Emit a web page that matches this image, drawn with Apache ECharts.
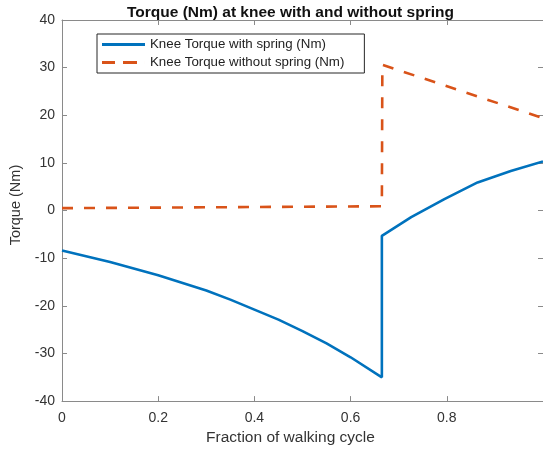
<!DOCTYPE html>
<html>
<head>
<meta charset="utf-8">
<script src="https://cdn.jsdelivr.net/npm/echarts@6/dist/echarts.min.js"></script>
<style>
  html, body { margin: 0; padding: 0; background: #fff; }
  #chart { width: 543px; height: 451px; }
</style>
</head>
<body>
<div id="chart"></div>
<script>
// fraction of walking cycle / torque readings
const withSpringX = [0, 0.1, 0.2, 0.3, 0.35, 0.4, 0.45, 0.5, 0.55, 0.6, 0.665, 0.665, 0.726, 0.795, 0.864, 0.933, 1.0];
const withSpringY = [-8.4, -10.8, -13.6, -16.8, -18.7, -20.8, -22.9, -25.3, -27.9, -30.8, -35.0, -5.3, -1.4, 2.4, 5.9, 8.3, 10.3];
const withoutSpringX = [0, 0.665, 0.666, 1.0];
const withoutSpringY = [0.5, 0.9, 30.6, 19.4];

const xTicks = [0, 0.2, 0.4, 0.6, 0.8];
const yTicks = [-40, -30, -20, -10, 0, 10, 20, 30, 40];

const seriesNames = ['Knee Torque with spring (Nm)', 'Knee Torque without spring (Nm)'];

const zip = (xs, ys) => xs.map((x, i) => [x, ys[i]]);

const chart = echarts.init(document.getElementById('chart'));

const axisColor = '#8a8a8a';
const labelColor = '#333';
const font = 'Liberation Sans, Arial, sans-serif';

const tick = () => ({ show: true, inside: true, length: 5, lineStyle: { color: axisColor } });
const line = () => ({ show: true, onZero: false, lineStyle: { color: axisColor } });

// legend samples: a solid bar and two dashes
const solidIcon = 'path://M0,0h43v3h-43z';
const dashedIcon = 'path://M0,0h13v3h-13zM21,0h14v3h-14zM42.99,0h0.01v3h-0.01z';

const option = {
    animation: false,
    backgroundColor: '#fff',
    title: {
        text: 'Torque (Nm) at knee with and without spring',
        left: 127,
        top: 5,
        padding: 0,
        textStyle: { fontFamily: font, fontSize: 15.5, fontWeight: 'bold', color: '#111' }
    },
    legend: {
        orient: 'vertical',
        left: 97,
        top: 34,
        data: [
            { name: seriesNames[0], icon: solidIcon },
            { name: seriesNames[1], icon: dashedIcon }
        ],
        itemWidth: 43,
        itemHeight: 3,
        itemGap: 3,
        padding: [3, 20, 3, 5],
        backgroundColor: '#fff',
        borderColor: '#262626',
        borderWidth: 1,
        textStyle: { fontFamily: font, fontSize: 13.3, color: '#222', lineHeight: 15 }
    },
    grid: { left: 62, right: -3, top: 20, bottom: 48 },
    xAxis: [
        {
            type: 'value',
            min: 0,
            max: 1,
            interval: 0.2,
            name: 'Fraction of walking cycle',
            nameLocation: 'middle',
            nameGap: 27,
            nameTextStyle: { fontFamily: font, fontSize: 15.5, color: labelColor, padding: [0, 24, 0, 0] },
            axisLine: line(),
            axisTick: tick(),
            axisLabel: {
                color: labelColor, fontFamily: font, fontSize: 14, margin: 10,
                showMaxLabel: false,
                formatter: v => (xTicks.includes(+v.toFixed(1)) ? String(v) : '')
            },
            splitLine: { show: false }
        },
        {
            type: 'value',
            position: 'top',
            min: 0,
            max: 1,
            interval: 0.2,
            axisLine: line(),
            axisTick: tick(),
            axisLabel: { show: false },
            splitLine: { show: false }
        }
    ],
    yAxis: [
        {
            type: 'value',
            min: yTicks[0],
            max: yTicks[yTicks.length - 1],
            interval: 10,
            name: 'Torque (Nm)',
            nameLocation: 'middle',
            nameGap: 29,
            nameTextStyle: { fontFamily: font, fontSize: 14.5, color: labelColor, padding: [0, 0, 0, 11] },
            axisLine: line(),
            axisTick: tick(),
            axisLabel: { color: labelColor, fontFamily: font, fontSize: 14, margin: 7 },
            splitLine: { show: false }
        },
        {
            type: 'value',
            position: 'right',
            min: yTicks[0],
            max: yTicks[yTicks.length - 1],
            interval: 10,
            axisLine: line(),
            axisTick: tick(),
            axisLabel: { show: false },
            splitLine: { show: false }
        }
    ],
    series: [
        {
            name: seriesNames[0],
            type: 'line',
            xAxisIndex: 0,
            yAxisIndex: 0,
            symbol: 'none',
            lineStyle: { color: '#0072BD', width: 2.6 },
            itemStyle: { color: '#0072BD' },
            data: zip(withSpringX, withSpringY)
        },
        {
            name: seriesNames[1],
            type: 'line',
            xAxisIndex: 0,
            yAxisIndex: 0,
            symbol: 'none',
            lineStyle: { color: '#D95319', width: 2.6, type: [11, 11] },
            itemStyle: { color: '#D95319' },
            data: zip(withoutSpringX, withoutSpringY)
        }
    ]
};

chart.setOption(option);
</script>
</body>
</html>
